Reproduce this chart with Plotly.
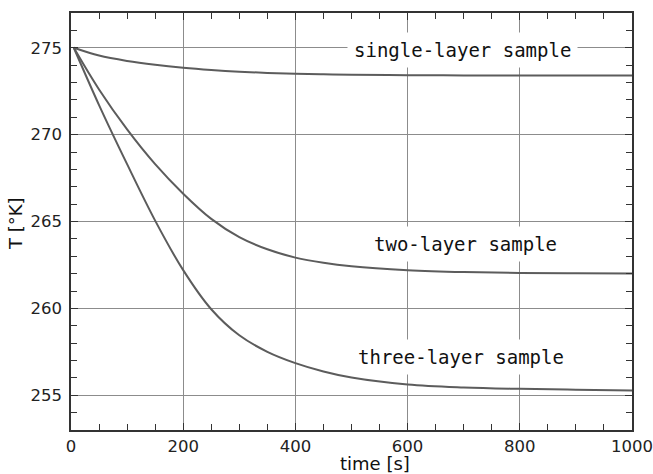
import plotly.graph_objects as go

t = [5, 50, 100, 150, 200, 250, 300, 350, 400, 450, 500, 600, 700, 800, 900, 1000]
single = [275.0, 274.55, 274.24, 274.02, 273.85, 273.72, 273.62, 273.55, 273.5, 273.47, 273.45, 273.42, 273.41, 273.4, 273.4, 273.4]
two = [275.0, 272.6, 270.3, 268.3, 266.6, 265.15, 264.1, 263.4, 262.92, 262.62, 262.42, 262.2, 262.09, 262.04, 262.02, 262.01]
three = [275.0, 271.7, 268.3, 265.05, 262.2, 259.95, 258.45, 257.5, 256.85, 256.37, 256.02, 255.62, 255.45, 255.37, 255.32, 255.28]

labels = ["single-layer sample", "two-layer sample", "three-layer sample"]
label_t = [698, 703, 696]
label_T = [274.85, 263.7, 257.2]

x_ticks = [0, 200, 400, 600, 800, 1000]
y_ticks = [255, 260, 265, 270, 275]

fig = go.Figure()
for ys in (single, two, three):
    fig.add_trace(go.Scatter(x=t, y=ys, mode="lines", line=dict(color="#5c5c5c", width=2, shape="spline"),
                             showlegend=False, hoverinfo="skip"))

for txt, xx, yy in zip(labels, label_t, label_T):
    fig.add_annotation(x=xx, y=yy, text=txt, showarrow=False, bgcolor="white", borderpad=6,
                       font=dict(family="DejaVu Sans Mono", size=19, color="#111"))

fig.add_annotation(xref="paper", yref="paper", x=0.542, y=0, yshift=-33, text="time [s]", showarrow=False,
                   xanchor="center", yanchor="middle", font=dict(family="DejaVu Sans", size=18, color="#111"))
fig.add_annotation(xref="paper", yref="paper", x=0, y=0.494, xshift=-56, text="T [°K]", showarrow=False,
                   textangle=-90, xanchor="center", yanchor="middle",
                   font=dict(family="DejaVu Sans", size=18, color="#111"))

axis_common = dict(showline=True, linecolor="#333", linewidth=1.5, mirror="allticks",
                   ticks="inside", ticklen=7, tickcolor="#333", tickwidth=1, automargin=False,
                   showgrid=True, gridcolor="#8c8c8c", gridwidth=1, zeroline=False,
                   tickfont=dict(family="DejaVu Sans", size=16.5, color="#222"))

fig.update_xaxes(range=[0, 1000], tickvals=x_ticks, minor=dict(dtick=50, ticks="inside", ticklen=6,
                 tickcolor="#333", showgrid=False), **axis_common)
fig.update_yaxes(range=[253, 277], tickvals=y_ticks, minor=dict(dtick=1, ticks="inside", ticklen=6,
                 tickcolor="#333", showgrid=False), ticklabelstandoff=4, **axis_common)

fig.update_layout(width=653, height=474, margin=dict(l=71, r=21, t=13, b=44, autoexpand=False),
                  paper_bgcolor="white", plot_bgcolor="white")

fig.write_html("out.html", config={"displayModeBar": False},
               post_script="document.body.style.margin='0';document.body.style.overflow='hidden';")
